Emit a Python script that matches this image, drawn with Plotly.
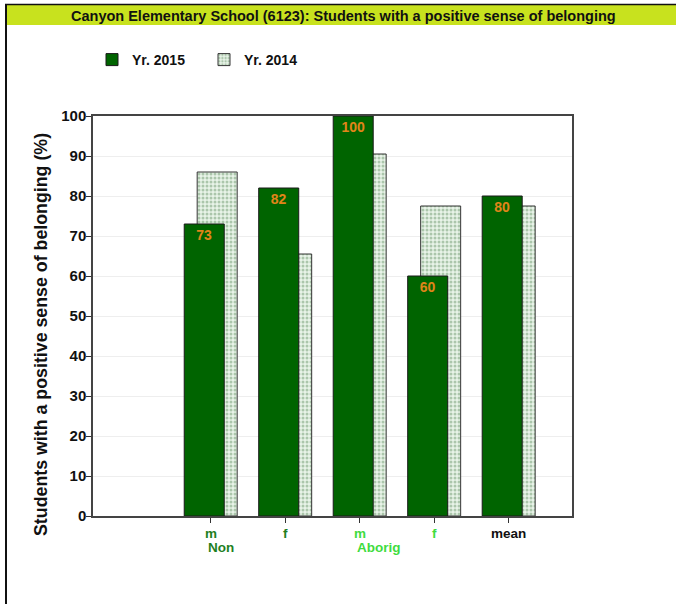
import plotly.graph_objects as go

# ---- data ----
categories = ["m", "f", "m", "f", "mean"]
groups = ["Non", "Aborig"]
yr2015 = [73, 82, 100, 60, 80]
yr2014 = [86, 65.5, 90.5, 77.5, 77.5]
cat_colors = ["#1f7f1f", "#1f7f1f", "#3fdc3f", "#3fdc3f", "#111111"]
group_colors = ["#1f7f1f", "#3fdc3f"]
group_pos = [0, 2]
y_ticks = [0, 10, 20, 30, 40, 50, 60, 70, 80, 90, 100]

W, H = 676, 604
L, R, T, B = 93, 104, 116, 88
xpos = list(range(len(categories)))

def px(x):
    return (x - L) / (W - L - R)

def py(y):
    return (H - B - y) / (H - T - B)

fig = go.Figure()

fig.add_trace(go.Bar(
    x=[i + 0.087 for i in xpos], y=yr2014, name="Yr. 2014", width=0.537,
    marker=dict(color="#e4f2e4",
                line=dict(color="#333333", width=1),
                pattern=dict(shape=".", fgcolor="#6e9a6e", bgcolor="#e8f3e8",
                             size=4, solidity=0.45)),
    legendrank=2, hoverinfo="skip"))

fig.add_trace(go.Bar(
    x=[i - 0.087 for i in xpos], y=yr2015, name="Yr. 2015", width=0.537,
    marker=dict(color="#006400", line=dict(color="#1a1a1a", width=1)),
    text=[str(v) for v in yr2015], textposition="inside", insidetextanchor="end",
    textfont=dict(color="#e0851a", size=14, family="Liberation Sans", weight="bold"),
    legendrank=1, hoverinfo="skip"))

fig.update_layout(
    width=W, height=H,
    margin=dict(l=L, r=R, t=T, b=B),
    paper_bgcolor="white", plot_bgcolor="white",
    barmode="overlay",
    font=dict(family="Liberation Sans", color="#111111"),
    showlegend=True,
    legend=dict(orientation="h", x=px(92), y=py(60), xanchor="left", yanchor="middle",
                font=dict(size=14, family="Liberation Sans", weight="bold"),
                itemwidth=30, tracegroupgap=0, traceorder="normal",
                entrywidth=67, entrywidthmode="pixels"),
    xaxis=dict(range=[-1.58, 4.85], tickvals=xpos, ticktext=[""] * len(xpos),
               ticks="outside", ticklen=5, tickcolor="#333333",
               showgrid=False, zeroline=False,
               showline=True, linecolor="#444444", linewidth=1.5, mirror=True),
    yaxis=dict(range=[0, 100], tickvals=y_ticks,
               ticks="outside", ticklen=5, tickcolor="#333333",
               ticklabelstandoff=-3,
               tickfont=dict(size=15, family="Liberation Sans", weight="bold"),
               showgrid=True, gridcolor="#eeeeee", gridwidth=1,
               zeroline=False,
               showline=True, linecolor="#444444", linewidth=1.5, mirror=True),
)

# category labels
for i, (c, col) in enumerate(zip(categories, cat_colors)):
    fig.add_annotation(x=i, y=py(533), xref="x", yref="paper", text=f"<b>{c}</b>",
                       showarrow=False, xanchor="center", yanchor="middle",
                       font=dict(size=13.5, color=col, family="Liberation Sans"))
for g, gp, gc in zip(groups, group_pos, group_colors):
    fig.add_annotation(x=gp, y=py(547), xref="x", yref="paper", text=f"<b>{g}</b>",
                       showarrow=False, xanchor="left", yanchor="middle", xshift=-5,
                       font=dict(size=13.5, color=gc, family="Liberation Sans"))

# y-axis title
fig.add_annotation(x=px(41), y=py(335), xref="paper", yref="paper",
                   text="<b>Students with a positive sense of belonging (%)</b>",
                   textangle=-90, showarrow=False, xanchor="center", yanchor="middle",
                   font=dict(size=17.8, color="#111111", family="Liberation Sans"))

# title bar
fig.add_shape(type="rect", xref="paper", yref="paper",
              x0=px(6), x1=px(676), y0=py(25), y1=py(5),
              fillcolor="#c8e21e", line=dict(width=0), layer="below")
fig.add_shape(type="line", xref="paper", yref="paper",
              x0=px(5), x1=px(676), y0=py(4.5), y1=py(4.5),
              line=dict(color="#111111", width=1.5))
fig.add_shape(type="line", xref="paper", yref="paper",
              x0=px(6), x1=px(6), y0=py(4), y1=py(604),
              line=dict(color="#111111", width=2))
fig.add_annotation(x=px(343), y=py(16), xref="paper", yref="paper",
                   text="<b>Canyon Elementary School (6123): Students with a positive sense of belonging</b>",
                   showarrow=False, xanchor="center", yanchor="middle",
                   font=dict(size=14.5, color="#111111", family="Liberation Sans"))

fig.write_html("out.html", config={"displayModeBar": False},
               post_script="document.body.style.margin='0';")
